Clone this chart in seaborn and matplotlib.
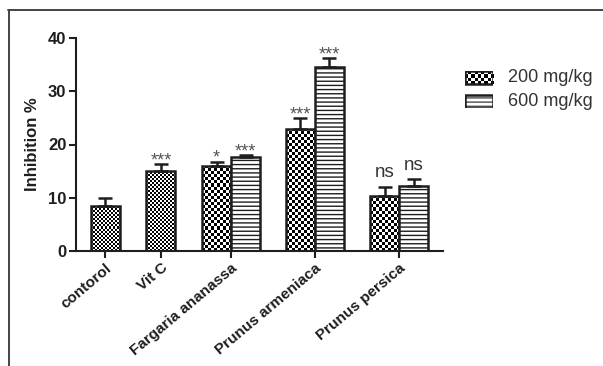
import numpy as np
import pandas as pd
import matplotlib
matplotlib.use('Agg')
import matplotlib.pyplot as plt
from matplotlib.lines import Line2D
from matplotlib.patches import Rectangle
import seaborn as sns

# values
groups = ['contorol', 'Vit C', 'Fargaria ananassa', 'Prunus armeniaca', 'Prunus persica']

ref_groups = ['contorol', 'Vit C']
ref_mean = [8.4, 15.1]
ref_sem = [1.5, 1.2]
ref_sig = ['', '***']

extract_groups = ['Fargaria ananassa', 'Prunus armeniaca', 'Prunus persica']
mean_200 = [16.0, 23.0, 10.4]
sem_200 = [0.8, 1.9, 1.7]
sig_200 = ['*', '***', 'ns']
mean_600 = [17.6, 34.5, 12.3]
sem_600 = [0.4, 1.7, 1.2]
sig_600 = ['***', '***', 'ns']

y_ticks = [0, 10, 20, 30, 40]

# layout (bar width = 1 unit)
group_x = {'contorol': 0.0, 'Vit C': 1.93, 'Fargaria ananassa': 4.345,
           'Prunus armeniaca': 7.24, 'Prunus persica': 10.14}
dose_shift = {'ref': 0.0, '200 mg/kg': -0.5, '600 mg/kg': 0.5}

rows = []
for g, m, s, t in zip(ref_groups, ref_mean, ref_sem, ref_sig):
    rows.append((g, 'ref', m, s, t))
for g, m, s, t in zip(extract_groups, mean_200, sem_200, sig_200):
    rows.append((g, '200 mg/kg', m, s, t))
for g, m, s, t in zip(extract_groups, mean_600, sem_600, sig_600):
    rows.append((g, '600 mg/kg', m, s, t))
df = pd.DataFrame(rows, columns=['group', 'dose', 'mean', 'sem', 'sig'])
df['pos'] = df['group'].map(group_x) + df['dose'].map(dose_shift)

sns.set_theme(style='ticks')
plt.rcParams['font.family'] = ['Liberation Sans', 'DejaVu Sans']
dark = '#1e1e1e'

fig = plt.figure(figsize=(6.03, 3.66), dpi=100)
ax = fig.add_axes([76 / 603, 1 - 251 / 366, (443 - 76) / 603, (251 - 38) / 366])

sns.barplot(data=df, x='pos', y='mean', hue='dose', native_scale=True, dodge=False,
            width=1, errorbar=None, palette={'ref': 'white', '200 mg/kg': 'white', '600 mg/kg': 'white'},
            edgecolor=dark, linewidth=1.8, legend=False, ax=ax)

ax.set_xlim(-1.0, 11.655)
ax.set_ylim(0, 40)


def fill_checker(axis, patch, cell_px, zorder):
    x0, y0 = patch.get_x(), patch.get_y()
    x1, y1 = x0 + patch.get_width(), y0 + patch.get_height()
    (px0, py0), (px1, py1) = axis.transData.transform([(x0, y0), (x1, y1)])
    nx = max(1, int(round(abs(px1 - px0) / cell_px)))
    ny = max(1, int(round(abs(py1 - py0) / cell_px)))
    board = np.indices((ny, nx)).sum(axis=0) % 2
    im = axis.imshow(board, cmap='gray', vmin=0, vmax=1, extent=[x0, x1, y0, y1],
                     origin='lower', interpolation='nearest', aspect='auto', zorder=zorder)
    im.set_clip_path(patch)
    return im


plt.rcParams['hatch.linewidth'] = 0.8
for p in list(ax.patches):
    cx = p.get_x() + p.get_width() / 2
    row = df.iloc[int(np.argmin(np.abs(df['pos'].values - cx)))]
    if row['dose'] == '600 mg/kg':
        p.set_hatch('----')
    else:
        p.set_facecolor('none')
        fill_checker(ax, p, 2.0 if row['dose'] == 'ref' else 3.0, p.get_zorder() - 0.1)

ax.set_xlim(-1.0, 11.655)
ax.set_ylim(0, 40)

ax.errorbar(df['pos'], df['mean'], yerr=[np.zeros(len(df)), df['sem']], fmt='none',
            ecolor=dark, elinewidth=1.8, capsize=5, capthick=1.8, zorder=3)

for _, r in df.iterrows():
    if not r['sig']:
        continue
    top = r['mean'] + r['sem']
    if r['sig'] == 'ns':
        ax.annotate('ns', (r['pos'], top), xytext=(0, 4), textcoords='offset points',
                    ha='center', va='bottom', fontsize=13.5, color='#333333')
    else:
        ax.annotate(r['sig'], (r['pos'], top), xytext=(0, -1), textcoords='offset points',
                    ha='center', va='baseline', fontsize=13, color='#555555')

ax.set_xticks([group_x[g] for g in groups])
ax.set_xticklabels(groups, rotation=40, ha='right', va='top', rotation_mode='anchor',
                   fontweight='bold', fontsize=11, color=dark)
ax.set_yticks(y_ticks)
ax.set_yticklabels([str(v) for v in y_ticks], fontweight='bold', fontsize=12, color=dark)
ax.set_xlabel('')
ax.set_ylabel('Inhibition %', fontweight='bold', fontsize=12, color=dark, labelpad=6)
ax.tick_params(axis='both', direction='out', length=5, width=1.5, color=dark, pad=2)
sns.despine(ax=ax)
for side in ['left', 'bottom']:
    ax.spines[side].set_linewidth(1.5)
    ax.spines[side].set_color(dark)

# legend drawn by hand so the checker swatch matches the bars
lax = fig.add_axes([465 / 603, 1 - 108 / 366, 28 / 603, 37 / 366])
lax.set_xlim(0, 1)
lax.set_ylim(0, 37)
lax.axis('off')
sw200 = Rectangle((0, 24), 1, 13, facecolor='none', edgecolor=dark, linewidth=1.8)
lax.add_patch(sw200)
fill_checker(lax, sw200, 3.0, 0.9)
lax.set_xlim(0, 1)
lax.set_ylim(0, 37)
sw600 = Rectangle((0, 0), 1, 13, facecolor='white', edgecolor=dark, linewidth=1.8, hatch='----')
lax.add_patch(sw600)
fig.text(508 / 603, 1 - 77.5 / 366, '200 mg/kg', fontsize=13, color='#333333', va='center')
fig.text(508 / 603, 1 - 101.5 / 366, '600 mg/kg', fontsize=13, color='#333333', va='center')

# outer frame (top and left edges)
fig.add_artist(Line2D([8 / 603, 1], [1 - 9.5 / 366] * 2, transform=fig.transFigure, color='#444444', lw=1.4))
fig.add_artist(Line2D([8.5 / 603] * 2, [0, 1 - 9.5 / 366], transform=fig.transFigure, color='#444444', lw=1.4))

fig.savefig('out.png', dpi=100)
